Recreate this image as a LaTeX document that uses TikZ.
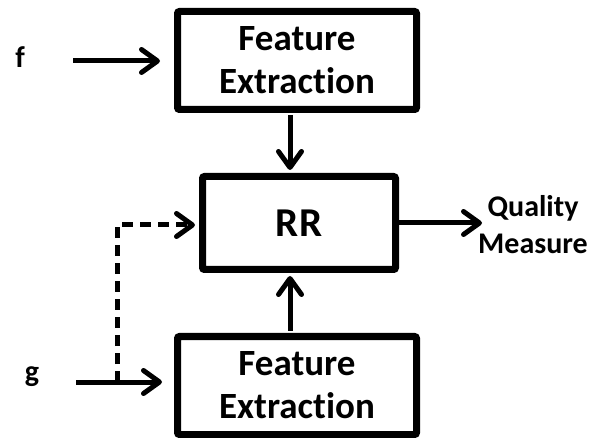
\documentclass[tikz,border=0pt]{standalone}
\usepackage{fontspec}
\setmainfont{Carlito}[Ligatures=NoCommon]
\usetikzlibrary{arrows.meta}
\begin{document}
\begin{tikzpicture}
[x=1pt,y=-1pt,
 every node/.style={font=\bfseries,inner sep=0pt},
 box/.style={draw,line width=7pt,rounded corners=2pt,align=center,
   font=\bfseries\fontsize{37}{43}\selectfont},
 arr/.style={line width=5pt,-{Straight Barb[length=16pt,width=23pt,round]}},
 lbl/.style={font=\bfseries\fontsize{30}{37}\selectfont,align=center}]
    \useasboundingbox (0,0) rectangle (589,438);
    \node[box,minimum width=239pt,minimum height=98pt] (top) at (297,60.5) {Feature\\Extraction};
    \node[box,minimum width=193pt,minimum height=93pt,
          font=\bfseries\fontsize{41}{46}\selectfont] (rr) at (299,223) {RR};
    \node[box,minimum width=239pt,minimum height=98pt] (bottom) at (297,385.5) {Feature\\Extraction};
    \node[lbl,anchor=base] (f) at (20,68) {f};
    \node[lbl,anchor=base] (g) at (32,381) {g};
    \node[lbl,anchor=west] (qm) at (478,225) {Quality\\Measure};
    % inputs
    \coordinate (fin) at (73,61);
    \coordinate (gin) at (76,382);
    \coordinate (split) at (117,382);
    \coordinate (ax) at (290,0);
    \draw[arr,shorten >=14pt] (fin) -- (fin -| top.west);
    \draw[arr,shorten >=12pt] (gin) -- (gin -| bottom.west);
    \draw[arr,dash pattern=on 11pt off 7pt,shorten >=4pt] (split) |- ([yshift=-2pt]rr.west);
    % into and out of RR
    \draw[arr,shorten <=2pt,shorten >=3pt] (top.south -| ax) -- (rr.north -| ax);
    \draw[arr,shorten <=2pt,shorten >=3pt] (bottom.north -| ax) -- (rr.south -| ax);
    \draw[arr,shorten >=-4pt] (rr.east) -- (rr.east -| qm.west);
\end{tikzpicture}
\end{document}
